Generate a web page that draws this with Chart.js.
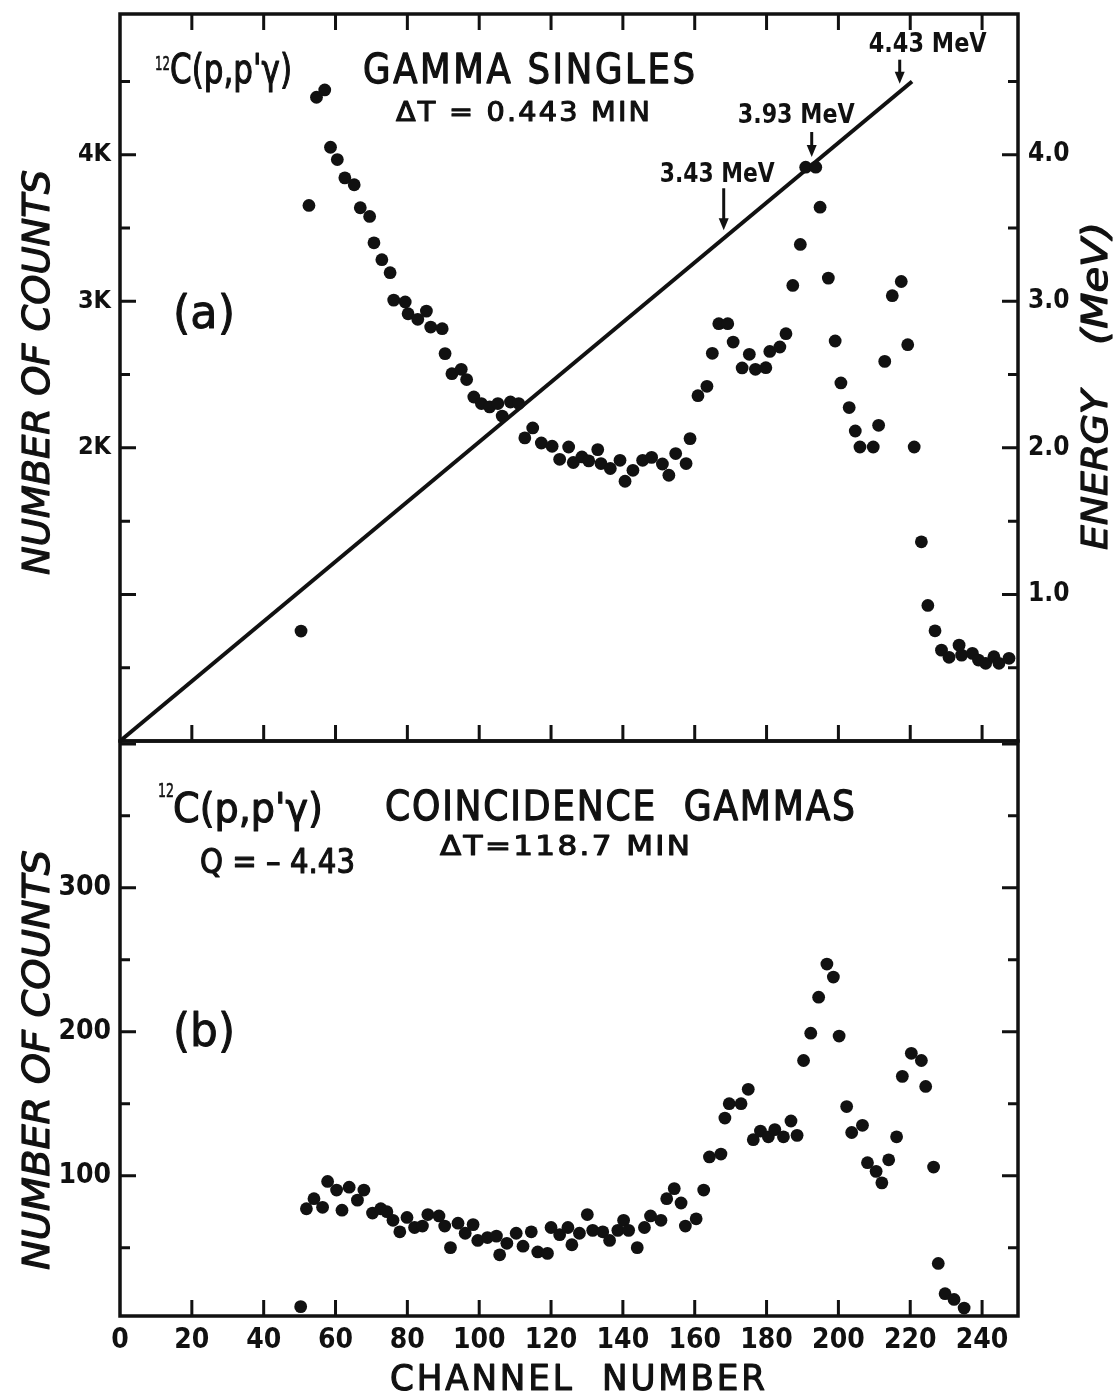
<!DOCTYPE html>
<html>
<head>
<meta charset="utf-8">
<title>12C(p,p'γ) gamma spectra</title>
<script src="https://cdn.jsdelivr.net/npm/chart.js@4.4.1/dist/chart.umd.min.js"></script>
<style>
  html, body { margin: 0; padding: 0; background: #fff; }
  #wrap { position: relative; width: 1115px; height: 1395px; }
  #wrap canvas { position: absolute; left: 0; top: 0; }
</style>
</head>
<body>
<div id="wrap">
  <canvas id="singles" width="1115" height="1395"></canvas>
  <canvas id="coinc" width="1115" height="1395"></canvas>
</div>
<script>
const INK = '#111';
const NARROW = "'Liberation Sans Narrow', 'DejaVu Sans Condensed', 'Arial Narrow', sans-serif";
const PLAIN = "'DejaVu Sans', 'Liberation Sans', sans-serif";

// (a) gamma singles, dT = 0.443 min
const singlesChannel = [50.4, 52.6, 54.7, 57.0, 58.6, 60.5, 62.6, 65.2, 66.9, 69.5, 70.7, 72.9, 75.2, 76.2, 79.4, 80.2,
  82.9, 85.3, 86.5, 89.7, 90.5, 92.4, 95.0, 96.5, 98.5, 100.6, 102.9, 105.2, 106.4, 108.7, 111.0, 112.7, 114.9, 117.3,
  120.3, 122.4, 124.9, 126.2, 128.6, 130.5, 133.0, 133.9, 136.5, 139.2, 140.6, 142.8, 145.5, 148.0, 151.0, 152.8, 154.7,
  157.6, 158.7, 160.9, 163.4, 164.9, 166.7, 169.2, 170.7, 173.2, 175.2, 176.9, 179.8, 180.9, 183.7, 185.4, 187.3, 189.4,
  190.9, 193.7, 194.9, 197.2, 199.1, 200.7, 203.0, 204.7, 206.0, 209.7, 211.2, 212.9, 215.0, 217.5, 219.3, 221.1, 223.1,
  224.9, 226.9, 228.7, 230.8, 233.6, 234.3, 237.3, 239.0, 241.0, 243.3, 244.7, 247.5];
const singlesCounts = [750, 3654, 4392, 4442, 4051, 3967, 3842, 3795, 3638, 3579, 3399, 3284, 3195, 3008, 2995, 2915,
  2877, 2933, 2824, 2813, 2643, 2506, 2536, 2466, 2347, 2302, 2279, 2302, 2217, 2313, 2302, 2068, 2136, 2033,
  2011, 1922, 2006, 1900, 1938, 1911, 1988, 1893, 1859, 1915, 1772, 1847, 1915, 1935, 1890, 1813, 1961,
  1893, 2063, 2356, 2420, 2645, 2847, 2847, 2722, 2545, 2638, 2536, 2547, 2658, 2688, 2779, 3108, 3388,
  3915, 3915, 3642, 3158, 2729, 2443, 2275, 2115, 2006, 2006, 2154, 2590, 3038, 3135, 2704, 2006, 1359,
  925, 752, 620, 571, 654, 586, 598, 552, 530, 575, 530, 564];

// energy calibration (channel -> MeV)
const calChannel = [0, 220.5];
const calEnergy = [0, 4.50];

// lines marked on the calibration
const markEnergy = [3.43, 3.93, 4.43];

// (b) coincidence gammas, dT = 118.7 min
const coincChannel = [50.3, 51.9, 54.0, 56.4, 57.8, 60.3, 61.8, 63.8, 66.1, 67.9, 70.3, 72.6, 74.3, 76.0, 77.9, 79.9,
  82.0, 84.2, 85.7, 88.8, 90.4, 92.0, 94.1, 96.1, 98.3, 99.6, 102.3, 104.8, 105.7, 107.7, 110.3, 112.2, 114.5, 116.3,
  119.0, 120.0, 122.4, 124.7, 125.8, 127.9, 130.1, 131.6, 134.4, 136.3, 138.6, 140.2, 141.6, 144.0, 146.0, 147.7,
  150.6, 152.2, 154.3, 156.2, 157.4, 160.4, 162.5, 164.1, 167.3, 168.4, 169.6, 172.9, 174.9, 176.3, 178.3, 180.5,
  182.3, 184.7, 186.8, 188.5, 190.3, 192.3, 194.5, 196.8, 198.6, 200.2, 202.3, 203.7, 206.7, 208.1, 210.5, 212.1,
  214.0, 216.2, 217.8, 220.3, 223.1, 224.3, 226.5, 227.8, 229.7, 232.2, 235.0];
const coincCounts = [9, 77, 84, 78, 96, 90, 76, 92, 83, 90, 74, 77, 75, 69, 61, 71,
  64, 65, 73, 72, 65, 50, 67, 60, 66, 55, 57, 58, 45, 53, 60, 51, 61, 47,
  46, 64, 59, 64, 52, 60, 73, 62, 61, 55, 62, 69, 62, 50, 64, 72,
  69, 84, 91, 81, 65, 70, 90, 113, 115, 140, 150, 150, 160, 125, 131, 127,
  132, 127, 138, 128, 180, 199, 224, 247, 238, 197, 148, 130, 135, 109, 103, 95,
  111, 127, 169, 185, 180, 162, 106, 39, 18, 14, 8];

// tick values and labels
const channelTicks = [0, 20, 40, 60, 80, 100, 120, 140, 160, 180, 200, 220, 240];
const singlesTicks = [2000, 3000, 4000];
const singlesTickLabels = ['2K', '3K', '4K'];
const energyTicks = [1, 2, 3, 4];
const energyTickLabels = ['1.0', '2.0', '3.0', '4.0'];
const coincTicks = [100, 200, 300];
const coincTickLabels = ['100', '200', '300'];

function points(xs, ys) {
  return xs.map((x, i) => ({ x: x, y: ys[i] }));
}

// text squeezed or stretched to a given width, left edge at x, baseline at y
function drawFitted(ctx, n) {
  ctx.save();
  ctx.font = (n.style || '') + ' ' + (n.weight || 'normal') + ' ' + n.size + 'px ' + PLAIN;
  ctx.letterSpacing = (n.spacing || 0) + 'px';
  ctx.fillStyle = INK;
  ctx.strokeStyle = INK;
  ctx.textAlign = 'left';
  ctx.textBaseline = 'alphabetic';
  const w = ctx.measureText(n.text).width - (n.spacing || 0);
  ctx.translate(n.x, n.y);
  if (n.rot) ctx.rotate(n.rot * Math.PI / 180);
  ctx.scale(n.w / w, 1);
  ctx.fillText(n.text, 0, 0);
  if (n.stroke) {
    // heavier pen for the hand lettering
    ctx.lineWidth = n.stroke;
    ctx.lineJoin = 'round';
    ctx.strokeText(n.text, 0, 0);
  }
  ctx.restore();
}

// arrows pointing at the marked energies on the calibration line
const markArrow = [42, 25, 24];
const markDx = [-64, -74, -31];
const markGap = [6, 9, 8];
const markW = [115, 117, 118];

function drawMarks(chart) {
  const ctx = chart.ctx;
  const xs = chart.scales.x, es = chart.scales.y2;
  const slope = (calEnergy[1] - calEnergy[0]) / (calChannel[1] - calChannel[0]);
  markEnergy.forEach((e, i) => {
    const ch = calChannel[0] + (e - calEnergy[0]) / slope;
    const px = xs.getPixelForValue(ch);
    const tip = es.getPixelForValue(e) - 8;
    const top = tip - markArrow[i];
    ctx.save();
    ctx.strokeStyle = INK;
    ctx.fillStyle = INK;
    ctx.lineWidth = 3;
    ctx.beginPath();
    ctx.moveTo(px, top);
    ctx.lineTo(px, tip - 8);
    ctx.stroke();
    ctx.beginPath();
    ctx.moveTo(px - 5, tip - 12);
    ctx.lineTo(px + 5, tip - 12);
    ctx.lineTo(px, tip);
    ctx.closePath();
    ctx.fill();
    ctx.restore();
    drawFitted(ctx, { text: e.toFixed(2) + ' MeV', x: px + markDx[i], y: top - markGap[i], size: 26, w: markW[i], weight: 'bold' });
  });
}

// frame with inward ticks on all four sides
function frameTicks(opts) {
  return {
    id: 'frameTicks',
    afterDatasetsDraw(chart) {
      const { ctx, chartArea: a } = chart;
      const xs = chart.scales.x, ys = chart.scales.y;
      ctx.save();
      ctx.strokeStyle = INK;
      ctx.lineWidth = 3.5;
      ctx.strokeRect(a.left, a.top, a.right - a.left, a.bottom - a.top);
      ctx.lineWidth = 3;
      ctx.beginPath();
      channelTicks.forEach(v => {
        if (v <= xs.min) return;
        const px = xs.getPixelForValue(v);
        ctx.moveTo(px, a.bottom);
        ctx.lineTo(px, a.bottom - 16);
        if (opts.top) {
          ctx.moveTo(px, a.top);
          ctx.lineTo(px, a.top + 16);
        }
      });
      for (let v = opts.yStep; v < ys.max; v += opts.yStep) {
        if (v <= ys.min) continue;
        const py = ys.getPixelForValue(v);
        const len = v % opts.yMajor === 0 ? 16 : 10;
        ctx.moveTo(a.left, py);
        ctx.lineTo(a.left + len, py);
        ctx.moveTo(a.right, py);
        ctx.lineTo(a.right - len, py);
      }
      ctx.stroke();
      ctx.restore();
    }
  };
}

function notes(items, marks) {
  return {
    id: 'notes',
    afterDraw(chart) {
      items.forEach(n => drawFitted(chart.ctx, n));
      if (marks) drawMarks(chart);
    }
  };
}

function fixedWidth(w) {
  return s => { s.width = w; s.paddingTop = 0; s.paddingBottom = 0; };
}

function tickFont(size) {
  return { family: NARROW, size: size, weight: 'bold' };
}

const baseOptions = {
  responsive: false,
  animation: false,
  devicePixelRatio: 1,
  events: [],
  plugins: { legend: { display: false }, tooltip: { enabled: false } }
};

// upper panel: singles spectrum with the energy calibration on the right axis
new Chart(document.getElementById('singles'), {
  type: 'scatter',
  data: {
    datasets: [
      {
        data: points(singlesChannel, singlesCounts),
        yAxisID: 'y',
        pointRadius: 6.4,
        pointBorderWidth: 0,
        pointBackgroundColor: INK
      },
      {
        data: points(calChannel, calEnergy),
        yAxisID: 'y2',
        showLine: true,
        borderColor: INK,
        borderWidth: 4,
        pointRadius: 0
      }
    ]
  },
  options: Object.assign({}, baseOptions, {
    layout: { autoPadding: false, padding: { top: 14, bottom: 654, left: 0, right: 0 } },
    scales: {
      x: { type: 'linear', min: 0, max: 250, display: false },
      y: {
        type: 'linear', position: 'left', min: 0, max: 4960,
        grid: { display: false, drawTicks: false }, border: { display: false },
        afterBuildTicks: s => { s.ticks = singlesTicks.map(v => ({ value: v })); },
        afterFit: fixedWidth(120),
        ticks: { padding: 9, color: INK, font: tickFont(25), callback: (v, i) => singlesTickLabels[i] }
      },
      y2: {
        type: 'linear', position: 'right', min: 0, max: 4.96,
        grid: { display: false, drawTicks: false }, border: { display: false },
        afterBuildTicks: s => { s.ticks = energyTicks.map(v => ({ value: v })); },
        afterFit: fixedWidth(97),
        ticks: { padding: 10, color: INK, font: tickFont(26), callback: (v, i) => energyTickLabels[i] }
      }
    }
  }),
  plugins: [
    frameTicks({ top: true, yStep: 500, yMajor: 1000 }),
    notes([
      { text: '12', x: 155, y: 70, size: 19, w: 15, stroke: 0.6 },
      { text: "C(p,p'\u03b3)", x: 170, y: 83, size: 40, w: 122, stroke: 1.2 },
      { text: 'GAMMA SINGLES', x: 363, y: 83, size: 40, w: 332, spacing: 3, stroke: 1.3 },
      { text: '\u0394T = 0.443 MIN', x: 396, y: 121, size: 26, w: 254, spacing: 2, stroke: 1.1 },
      { text: '(a)', x: 173, y: 328, size: 46, w: 62, stroke: 1 },
      { text: 'NUMBER OF COUNTS', x: 49, y: 575, size: 38, w: 405, style: 'italic', rot: -90, stroke: 1.2 },
      { text: 'ENERGY', x: 1107, y: 550, size: 35, w: 160, style: 'italic', rot: -90, stroke: 1.2 },
      { text: '(MeV)', x: 1107, y: 345, size: 35, w: 123, style: 'italic', rot: -90, stroke: 1.2 }
    ], true)
  ]
});

// lower panel: coincidence spectrum
new Chart(document.getElementById('coinc'), {
  type: 'scatter',
  data: {
    datasets: [
      {
        data: points(coincChannel, coincCounts),
        pointRadius: 6.4,
        pointBorderWidth: 0,
        pointBackgroundColor: INK
      }
    ]
  },
  options: Object.assign({}, baseOptions, {
    layout: { autoPadding: false, padding: { top: 741, bottom: 0, left: 0, right: 97 } },
    scales: {
      x: {
        type: 'linear', position: 'bottom', min: 0, max: 250,
        grid: { display: false, drawTicks: false }, border: { display: false },
        afterBuildTicks: s => { s.ticks = channelTicks.map(v => ({ value: v })); },
        afterFit: s => { s.height = 79; s.paddingLeft = 0; s.paddingRight = 0; },
        ticks: { padding: 8, color: INK, font: tickFont(28), maxRotation: 0, autoSkip: false, callback: v => String(v) }
      },
      y: {
        type: 'linear', position: 'left', min: 2.5, max: 402,
        grid: { display: false, drawTicks: false }, border: { display: false },
        afterBuildTicks: s => { s.ticks = coincTicks.map(v => ({ value: v })); },
        afterFit: fixedWidth(120),
        ticks: { padding: 9, color: INK, font: tickFont(28), callback: (v, i) => coincTickLabels[i] }
      }
    }
  }),
  plugins: [
    frameTicks({ top: false, yStep: 50, yMajor: 100 }),
    notes([
      { text: '12', x: 158, y: 797, size: 19, w: 16, stroke: 0.6 },
      { text: "C(p,p'\u03b3)", x: 173, y: 822, size: 40, w: 150, stroke: 1.2 },
      { text: 'COINCIDENCE  GAMMAS', x: 385, y: 820, size: 40, w: 470, spacing: 2, stroke: 1.3 },
      { text: '\u0394T=118.7 MIN', x: 440, y: 855, size: 26, w: 250, spacing: 2, stroke: 1.1 },
      { text: 'Q = \u2013 4.43', x: 200, y: 873, size: 34, w: 155, stroke: 1.2 },
      { text: '(b)', x: 173, y: 1046, size: 46, w: 62, stroke: 1 },
      { text: 'NUMBER OF COUNTS', x: 49, y: 1270, size: 38, w: 420, style: 'italic', rot: -90, stroke: 1.2 },
      { text: 'CHANNEL  NUMBER', x: 390, y: 1390, size: 36, w: 375, spacing: 3, stroke: 1.2 }
    ], false)
  ]
});
</script>
</body>
</html>
